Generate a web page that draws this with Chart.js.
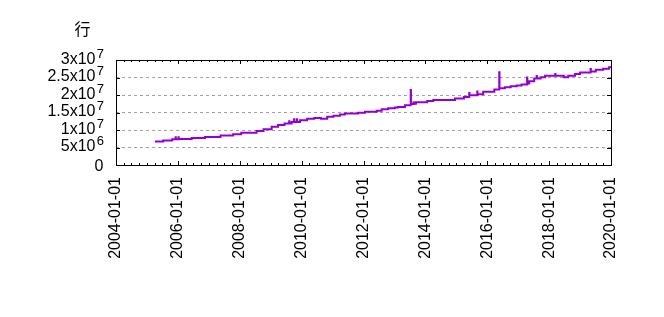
<!DOCTYPE html>
<html><head><meta charset="utf-8">
<script src="https://cdn.jsdelivr.net/npm/chart.js@4/dist/chart.umd.min.js"></script>
<style>html,body{margin:0;padding:0;background:#fff}#wrap{width:664px;height:317px;position:relative}</style>
</head><body><div id="wrap"><canvas id="c" width="664" height="317"></canvas></div>
<script>
// ---- data ----
const dates = [
  '2005-04-05','2005-07-12','2005-10-26','2005-12-05','2005-12-08','2006-01-08','2006-01-11',
  '2006-06-13','2006-11-17','2007-05-19','2007-10-15','2008-01-19','2008-07-19','2008-10-08',
  '2009-01-12','2009-03-29','2009-06-13','2009-08-07','2009-08-10','2009-09-05','2009-10-04','2009-10-07',
  '2009-11-06','2009-11-09','2009-12-13','2010-03-07','2010-05-30','2010-08-18','2010-10-30',
  '2011-01-12','2011-03-29','2011-05-26','2011-10-30','2012-01-19','2012-06-05','2012-08-03',
  '2012-10-19','2013-01-08','2013-02-13','2013-05-05','2013-07-12','2013-07-15','2013-08-14',
  '2013-08-17','2013-09-12','2014-01-23','2014-04-05','2014-12-16','2015-04-01','2015-06-02',
  '2015-06-05','2015-09-05','2015-09-08','2015-11-14','2016-03-25','2016-05-22','2016-05-25',
  '2016-07-27','2016-10-04','2016-12-13','2017-02-09','2017-04-16','2017-04-19','2017-05-11',
  '2017-07-09','2017-08-07','2017-08-10','2017-09-23','2017-11-14','2018-03-14','2018-03-17',
  '2018-06-24','2018-08-14','2018-11-03','2019-01-01','2019-05-05','2019-05-08','2019-07-05',
  '2019-10-01','2019-12-09','2020-01-01'
];
const rowsMillions = [
  6.7, 7.0, 7.35, 7.9, 7.35, 7.9, 7.4,
  7.75, 8.0, 8.45, 8.8, 9.25, 9.7, 10.2,
  10.9, 11.45, 11.85, 12.5, 11.85, 12.3, 13.1, 12.3,
  13.1, 12.3, 12.8, 13.2, 13.45, 13.2, 13.8,
  14.1, 14.4, 14.7, 14.9, 15.2, 15.5, 15.9,
  16.2, 16.4, 16.6, 17.1, 21.4, 17.4, 17.9,
  17.5, 17.9, 18.3, 18.6, 19.0, 19.4, 20.6,
  19.9, 21.0, 20.2, 20.9, 21.6, 26.5, 21.9,
  22.2, 22.5, 22.7, 23.0, 25.0, 23.3, 23.9,
  24.7, 25.4, 24.7, 25.1, 25.5, 26.0, 25.5,
  25.1, 25.5, 26.0, 26.4, 27.4, 26.7, 27.2,
  27.5, 27.9, 27.9
];
const xTickYears = [2004, 2006, 2008, 2010, 2012, 2014, 2016, 2018, 2020];
const xTickLabels = ['2004-01-01','2006-01-01','2008-01-01','2010-01-01','2012-01-01','2014-01-01','2016-01-01','2018-01-01','2020-01-01'];
const yTickValues = [0, 5e6, 1e7, 1.5e7, 2e7, 2.5e7, 3e7];
const yTickMantissa = ['0', '5x10', '1x10', '1.5x10', '2x10', '2.5x10', '3x10'];
const yTickExponent = ['', '6', '7', '7', '7', '7', '7'];
const yAxisTitle = '行';

// ---- helpers ----
function decYear(s) {
  const [y, m, d] = s.split('-').map(Number);
  const t0 = Date.UTC(y, 0, 1), t1 = Date.UTC(y + 1, 0, 1);
  return y + (Date.UTC(y, m - 1, d) - t0) / (t1 - t0);
}
const points = dates.map((d, i) => ({ x: decYear(d), y: rowsMillions[i] * 1e6 }));

const FONT = '"Liberation Sans", Arial, sans-serif';

const framePlugin = {
  id: 'frame',
  afterDatasetsDraw(chart) {
    const { ctx, chartArea: a, scales: { x, y } } = chart;
    ctx.save();
    ctx.strokeStyle = '#000';
    ctx.lineWidth = 1;
    ctx.beginPath();
    for (let k = 0; k <= (xTickYears[xTickYears.length - 1] - xTickYears[0]) * 4; k++) {
      const v = xTickYears[0] + k / 4;
      const px = Math.round(x.getPixelForValue(v)) + 0.5;
      const len = (k % 8 === 0) ? 4 : 2;
      ctx.moveTo(px, a.bottom); ctx.lineTo(px, a.bottom - len);
      ctx.moveTo(px, a.top); ctx.lineTo(px, a.top + len);
    }
    yTickValues.forEach(v => {
      const py = Math.round(y.getPixelForValue(v)) + 0.5;
      ctx.moveTo(a.left, py); ctx.lineTo(a.left + 4, py);
      ctx.moveTo(a.right, py); ctx.lineTo(a.right - 4, py);
    });
    ctx.stroke();
    ctx.strokeRect(Math.round(a.left) + 0.5, Math.round(a.top) + 0.5,
                   Math.round(a.right - a.left), Math.round(a.bottom - a.top));
    ctx.fillStyle = '#000';
    ctx.textAlign = 'right';
    ctx.textBaseline = 'alphabetic';
    yTickValues.forEach((v, i) => {
      const py = y.getPixelForValue(v);
      if (yTickExponent[i]) {
        ctx.font = '16px ' + FONT;
        ctx.fillText(yTickMantissa[i], 95.5, py + 3.7);
        ctx.font = '13px ' + FONT;
        ctx.fillText(yTickExponent[i], 104, py - 2.2);
      } else {
        ctx.font = '16px ' + FONT;
        ctx.fillText(yTickMantissa[i], 103.5, py + 5.5);
      }
    });
    ctx.textAlign = 'center';
    ctx.textBaseline = 'middle';
    ctx.font = '16px "Noto Sans CJK SC", sans-serif';
    ctx.fillText(yAxisTitle, 82.5, 29);
    ctx.restore();
  }
};

new Chart(document.getElementById('c'), {
  type: 'line',
  data: {
    datasets: [{
      data: points,
      borderColor: '#9400d3',
      borderWidth: 2,
      pointRadius: 0,
      stepped: 'before',
      fill: false,
      tension: 0
    }]
  },
  options: {
    responsive: false,
    animation: false,
    devicePixelRatio: 1,
    layout: { padding: { top: 60, right: 53, left: 0, bottom: 0 } },
    plugins: { legend: { display: false }, tooltip: { enabled: false } },
    scales: {
      x: {
        type: 'linear',
        min: xTickYears[0],
        max: xTickYears[xTickYears.length - 1],
        afterBuildTicks: s => { s.ticks = xTickYears.map(v => ({ value: v })); },
        afterFit: s => { s.height = 152; },
        grid: { display: false, drawTicks: false },
        border: { display: false },
        ticks: {
          autoSkip: false,
          maxRotation: 90,
          minRotation: 90,
          padding: 12,
          color: '#000',
          font: { family: FONT, size: 16 },
          callback: (v) => xTickLabels[xTickYears.indexOf(v)]
        }
      },
      y: {
        type: 'linear',
        min: yTickValues[0],
        max: yTickValues[yTickValues.length - 1],
        afterBuildTicks: s => { s.ticks = yTickValues.map(v => ({ value: v })); },
        afterFit: s => { s.width = 116; },
        grid: {
          drawTicks: false,
          color: c => (c.tick && (c.tick.value === yTickValues[0] || c.tick.value === yTickValues[yTickValues.length - 1])) ? 'rgba(0,0,0,0)' : '#a0a0a0',
          lineWidth: 1
        },
        border: { display: false, dash: [3, 3] },
        ticks: { display: false }
      }
    }
  },
  plugins: [framePlugin]
});
</script>
</body></html>
